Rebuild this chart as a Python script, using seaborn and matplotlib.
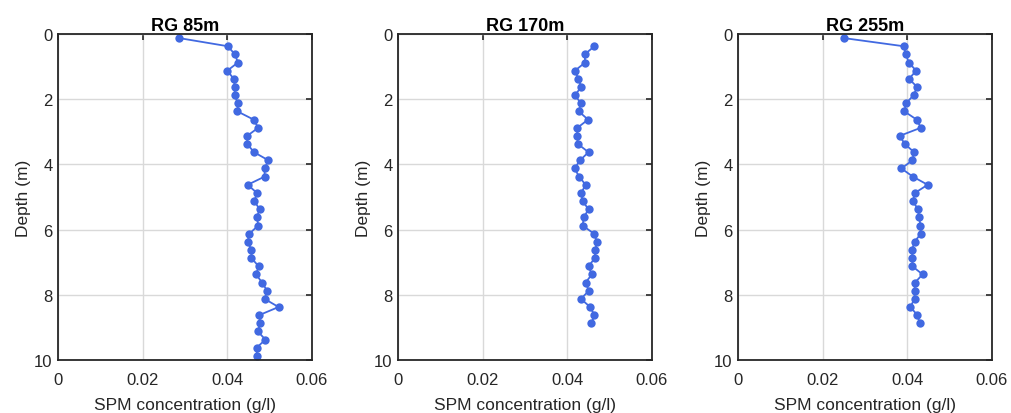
import matplotlib
matplotlib.use("Agg")
import matplotlib.pyplot as plt
import seaborn as sns
import pandas as pd

# depth levels (m)
depth_a = [0.125, 0.375, 0.625, 0.875, 1.125, 1.375, 1.625, 1.875, 2.125, 2.375,
           2.625, 2.875, 3.125, 3.375, 3.625, 3.875, 4.125, 4.375, 4.625, 4.875,
           5.125, 5.375, 5.625, 5.875, 6.125, 6.375, 6.625, 6.875, 7.125, 7.375,
           7.625, 7.875, 8.125, 8.375, 8.625, 8.875, 9.125, 9.375, 9.625, 9.875]
spm_85 = [0.0286, 0.0401, 0.0418, 0.0425, 0.0400, 0.0415, 0.0418, 0.0417, 0.0425, 0.0424,
          0.0462, 0.0473, 0.0447, 0.0447, 0.0463, 0.0497, 0.0488, 0.0488, 0.0448, 0.0470,
          0.0464, 0.0476, 0.0470, 0.0473, 0.0452, 0.0448, 0.0457, 0.0457, 0.0474, 0.0468,
          0.0482, 0.0494, 0.0488, 0.0521, 0.0475, 0.0478, 0.0472, 0.0490, 0.0469, 0.0470]

depth_b = [0.375, 0.625, 0.875, 1.125, 1.375, 1.625, 1.875, 2.125, 2.375,
           2.625, 2.875, 3.125, 3.375, 3.625, 3.875, 4.125, 4.375, 4.625, 4.875,
           5.125, 5.375, 5.625, 5.875, 6.125, 6.375, 6.625, 6.875, 7.125, 7.375,
           7.625, 7.875, 8.125, 8.375, 8.625, 8.875]
spm_170 = [0.0464, 0.0441, 0.0442, 0.0418, 0.0426, 0.0433, 0.0418, 0.0432, 0.0427,
           0.0449, 0.0424, 0.0423, 0.0425, 0.0450, 0.0430, 0.0417, 0.0428, 0.0443, 0.0433,
           0.0436, 0.0450, 0.0439, 0.0436, 0.0463, 0.0470, 0.0466, 0.0465, 0.0450, 0.0458,
           0.0443, 0.0451, 0.0432, 0.0454, 0.0464, 0.0457]

depth_c = [0.125, 0.375, 0.625, 0.875, 1.125, 1.375, 1.625, 1.875, 2.125, 2.375,
           2.625, 2.875, 3.125, 3.375, 3.625, 3.875, 4.125, 4.375, 4.625, 4.875,
           5.125, 5.375, 5.625, 5.875, 6.125, 6.375, 6.625, 6.875, 7.125, 7.375,
           7.625, 7.875, 8.125, 8.375, 8.625, 8.875]
spm_255 = [0.0250, 0.0391, 0.0397, 0.0403, 0.0421, 0.0404, 0.0423, 0.0415, 0.0397, 0.0393,
           0.0422, 0.0432, 0.0382, 0.0394, 0.0416, 0.0412, 0.0386, 0.0413, 0.0448, 0.0418,
           0.0413, 0.0425, 0.0428, 0.0431, 0.0432, 0.0417, 0.0411, 0.0412, 0.0412, 0.0436,
           0.0418, 0.0417, 0.0417, 0.0407, 0.0424, 0.0429]

titles = ["RG 85m", "RG 170m", "RG 255m"]
xticks = [0, 0.02, 0.04, 0.06]
yticks = [0, 2, 4, 6, 8, 10]

sns.set_style("white")
plt.rcParams["font.family"] = ["Liberation Sans", "DejaVu Sans"]

fig = plt.figure(figsize=(10.11, 4.14), dpi=100)
lefts = [58, 398, 738]
series = [(spm_85, depth_a), (spm_170, depth_b), (spm_255, depth_c)]

for i, (spm, dep) in enumerate(series):
    ax = fig.add_axes([lefts[i] / 1011, 53 / 414, 254 / 1011, 326 / 414])
    df = pd.DataFrame({"spm": spm, "depth": dep})
    sns.lineplot(data=df, x="spm", y="depth", sort=False, estimator=None,
                 color="#4169e1", marker="o", markersize=6, markeredgewidth=0,
                 linewidth=1.3, ax=ax)
    ax.set_xlim(0, 0.06)
    ax.set_ylim(10, 0)
    ax.set_xticks(xticks)
    ax.set_xticklabels(["0", "0.02", "0.04", "0.06"])
    ax.set_yticks(yticks)
    ax.grid(True, color="#d9d9d9", linewidth=1)
    ax.set_axisbelow(True)
    ax.tick_params(direction="in", length=4, width=1.2, top=True, right=True,
                   labelsize=12, colors="#262626")
    ax.tick_params(axis="x", pad=9)
    ax.tick_params(axis="y", pad=4)
    for s in ax.spines.values():
        s.set_linewidth(1.3)
        s.set_color("#262626")
    ax.set_title(titles[i], fontsize=13, fontweight="bold", pad=3, color="black")
    ax.set_xlabel("SPM concentration (g/l)", fontsize=12.5, color="#262626", labelpad=7)
    ax.set_ylabel("Depth (m)", fontsize=12.5, color="#262626", labelpad=2)

fig.savefig("out.png", dpi=100)
